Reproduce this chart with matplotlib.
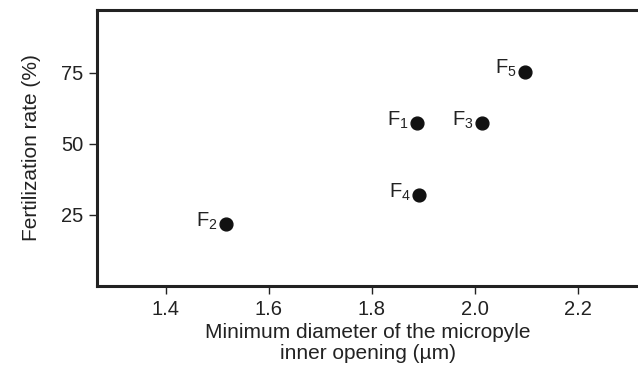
import matplotlib
matplotlib.use("Agg")
import matplotlib.pyplot as plt

plt.rcParams['font.family'] = ['Liberation Sans', 'DejaVu Sans']
plt.rcParams['mathtext.fontset'] = 'custom'
plt.rcParams['mathtext.rm'] = 'Liberation Sans'
plt.rcParams['mathtext.it'] = 'Liberation Sans:italic'
plt.rcParams['mathtext.bf'] = 'Liberation Sans:bold'

labels = ["1", "2", "3", "4", "5"]
diameter = [1.889, 1.518, 2.015, 1.892, 2.098]
fert_rate = [57.3, 21.7, 57.3, 32.0, 75.4]
xticks = [1.4, 1.6, 1.8, 2.0, 2.2]
yticks = [25, 50, 75]

fig = plt.figure(figsize=(6.38, 3.80), dpi=100)
ax = fig.add_axes([97/638, (380-286)/380, 1 - 97/638, (286-9.5)/380])
ax.scatter(diameter, fert_rate, s=85, color='#111111', zorder=3)
for lab, x, y in zip(labels, diameter, fert_rate):
    ax.annotate(r'$\mathrm{F}_{\mathrm{' + lab + '}}$', (x, y), xytext=(-6, 2),
                textcoords='offset points', ha='right', va='center', fontsize=14.5, color='#222222')

ax.set_xlim(1.267, 2.317)
ax.set_ylim(0, 97.2)
ax.set_xticks(xticks)
ax.set_xticklabels([f"{v:.1f}" for v in xticks])
ax.set_yticks(yticks)
for side in ['left', 'bottom', 'top']:
    ax.spines[side].set_linewidth(2.2)
    ax.spines[side].set_color('#222222')
ax.spines['right'].set_visible(False)
ax.tick_params(direction='out', length=6, width=1, labelsize=14.5, colors='#222222', pad=4)
ax.set_xlabel("Minimum diameter of the micropyle\ninner opening (µm)", fontsize=15,
              color='#222222', linespacing=1.1, labelpad=3)
ax.set_ylabel("Fertilization rate (%)", fontsize=15, color='#222222', labelpad=14)
fig.savefig("out.png", dpi=100)
